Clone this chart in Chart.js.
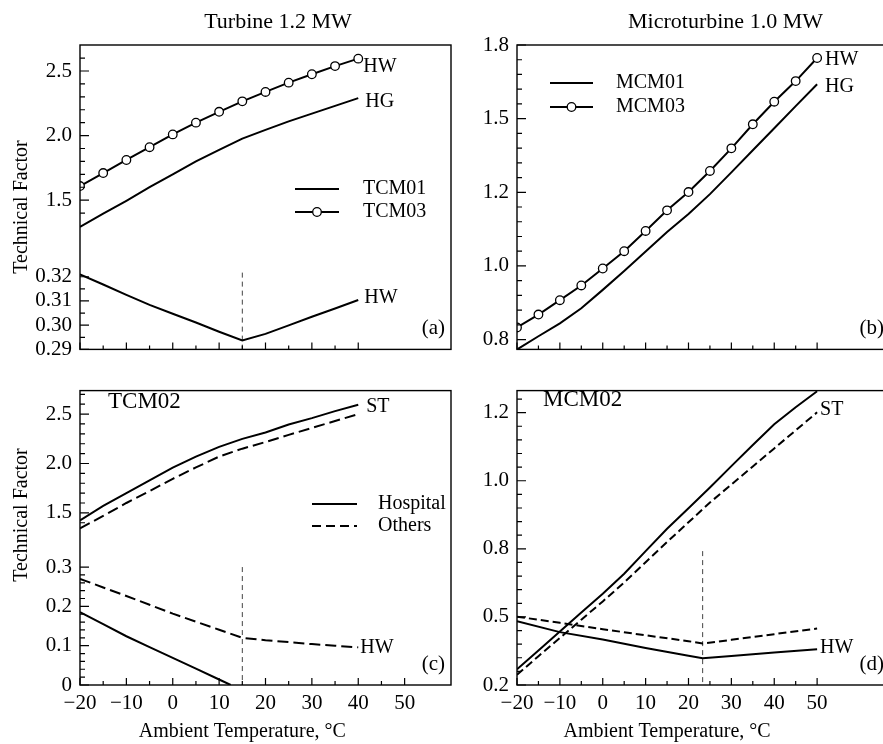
<!DOCTYPE html>
<html lang="en">
<head>
<meta charset="UTF-8">
<title>Technical Factor vs Ambient Temperature</title>
<style>
    html, body {
        margin: 0;
        padding: 0;
        overflow: hidden;
        background: #fff;
    }
    body {
        position: relative;
        width: 883px;
        height: 744px;
    }
    canvas { position: absolute; }
    #chartA { left: 0; top: 0; }
    #chartB { left: 440px; top: 0; }
    #chartC { left: 0; top: 370px; }
    #chartD { left: 440px; top: 370px; }
</style>
</head>
<body>
<canvas id="chartA" width="460" height="370"></canvas>
<canvas id="chartB" width="480" height="370"></canvas>
<canvas id="chartC" width="460" height="374"></canvas>
<canvas id="chartD" width="480" height="374"></canvas>

<script src="https://cdn.jsdelivr.net/npm/chart.js"></script>
<script>
// ---------- data ----------

// (a) Turbine 1.2 MW, TCM01 / TCM03
var tempsA = [-20, -15, -10, -5, 0, 5, 10, 15, 20, 25, 30, 35, 40];
var tcm03HW = [1.609, 1.710, 1.811, 1.910, 2.009, 2.100, 2.184, 2.265, 2.338, 2.410, 2.475, 2.538, 2.596];
var tcm01HG = [1.292, 1.395, 1.495, 1.600, 1.700, 1.800, 1.890, 1.976, 2.044, 2.110, 2.170, 2.230, 2.290];
var tcm01HW = [0.3210, 0.3168, 0.3125, 0.3084, 0.3047, 0.3011, 0.2973, 0.2937, 0.2964, 0.2999, 0.3035, 0.3069, 0.3104];

// (b) Microturbine 1.0 MW, MCM01 / MCM03
var tempsB = [-20, -15, -10, -5, 0, 5, 10, 15, 20, 25, 30, 35, 40, 45, 50];
var mcm03HW = [0.833, 0.868, 0.907, 0.947, 0.993, 1.040, 1.095, 1.151, 1.201, 1.287, 1.379, 1.477, 1.569, 1.653, 1.747];
var mcm01HG = [0.773, 0.809, 0.844, 0.885, 0.935, 0.986, 1.039, 1.092, 1.141, 1.195, 1.281, 1.371, 1.461, 1.551, 1.640];

// (c) TCM02, hospital vs others
var tempsC = [-20, -15, -10, -5, 0, 5, 10, 15, 20, 25, 30, 35, 40];
var hospST = [1.424, 1.570, 1.699, 1.830, 1.958, 2.070, 2.168, 2.249, 2.314, 2.395, 2.459, 2.530, 2.595];
var othersST = [1.343, 1.470, 1.600, 1.720, 1.845, 1.960, 2.070, 2.150, 2.217, 2.290, 2.360, 2.430, 2.500];
var othersHW = [0.270, 0.248, 0.2265, 0.204, 0.1815, 0.161, 0.1406, 0.120, 0.1137, 0.109, 0.104, 0.100, 0.0957];
var tempsCHosp = [-20, -15, -10, -5, 0, 5, 10, 12.5];
var hospHW = [0.1856, 0.155, 0.124, 0.0965, 0.069, 0.0417, 0.014, 0];

// (d) MCM02, hospital vs others
var tempsD = [-20, -15, -10, -5, 0, 5, 10, 15, 20, 25, 30, 35, 40, 45, 50];
var hospSTd = [0.269, 0.352, 0.436, 0.519, 0.602, 0.690, 0.790, 0.859, 0.919, 0.980, 1.043, 1.105, 1.166, 1.216, 1.263];
var othersSTd = [0.245, 0.327, 0.407, 0.488, 0.568, 0.652, 0.741, 0.820, 0.878, 0.936, 0.989, 1.042, 1.095, 1.148, 1.201];
var tempsDHW = [-20, -10, 0, 10, 20, 23.3, 30, 40, 50];
var hospHWd = [0.481, 0.433, 0.400, 0.363, 0.329, 0.318, 0.328, 0.343, 0.357];
var othersHWd = [0.501, 0.474, 0.446, 0.419, 0.393, 0.383, 0.399, 0.424, 0.449];

// temperature where HW reaches its minimum (dashed markers)
var minA = 15, minC = 15, minD = 23.3;

// ---------- ticks ----------
var xTicksA = [-20, -15, -10, -5, 0, 5, 10, 15, 20, 25, 30, 35, 40];
var xTicksFull = [-20, -15, -10, -5, 0, 5, 10, 15, 20, 25, 30, 35, 40, 45, 50];
var xLabels = [-20, -10, 0, 10, 20, 30, 40, 50];

var yLabelsA = ['0.29', '0.30', '0.31', '0.32', '1.5', '2.0', '2.5'];
var yMinorA = [0.295, 0.305, 0.315, 1.4, 1.6, 1.7, 1.8, 1.9, 2.1, 2.2, 2.3, 2.4, 2.6];
var yLabelsB = ['0.8', '1.0', '1.2', '1.5', '1.8'];
var yMinorB = [0.84, 0.88, 0.92, 0.96, 1.04, 1.08, 1.12, 1.16, 1.26, 1.32, 1.38, 1.44, 1.56, 1.62, 1.68, 1.74];
var yLabelsC = ['0', '0.1', '0.2', '0.3', '1.5', '2.0', '2.5'];
var yMinorC = [0.02, 0.04, 0.06, 0.08, 0.12, 0.14, 0.16, 0.18, 0.22, 0.24, 0.26, 0.28,
               1.4, 1.6, 1.7, 1.8, 1.9, 2.1, 2.2, 2.3, 2.4, 2.6, 2.7];
var yLabelsD = ['0.2', '0.5', '0.8', '1.0', '1.2'];
var yMinorD = [0.26, 0.32, 0.38, 0.44, 0.56, 0.62, 0.68, 0.74, 0.84, 0.88, 0.92, 0.96, 1.04, 1.08, 1.12, 1.16, 1.24];

// ---------- helpers ----------
var SERIF = "'Liberation Serif', 'Times New Roman', serif";
Chart.defaults.font.family = SERIF;
Chart.defaults.color = '#000';

// The y axes are broken / unevenly labelled, so values go through a
// piecewise-linear map onto a plain linear scale (units = px from bottom).
function makeAxis(segments) {
    return function (v) {
        var seg = segments[segments.length - 1];
        for (var s = 0; s < segments.length; s++) {
            if (v < segments[s].upTo) { seg = segments[s]; break; }
        }
        var k = seg.knots, i = 0;
        while (i < k.length - 2 && v > k[i + 1][0]) i++;
        return k[i][1] + (v - k[i][0]) * (k[i + 1][1] - k[i][1]) / (k[i + 1][0] - k[i][0]);
    };
}

function minus(v) {
    return v < 0 ? '\u2212' + Math.abs(v) : String(v);
}

function drawText(ctx, t) {
    ctx.save();
    ctx.font = (t.size || 20) + 'px ' + SERIF;
    ctx.fillStyle = '#000';
    ctx.textAlign = t.align || 'left';
    ctx.textBaseline = 'middle';
    ctx.translate(t.x, t.y);
    if (t.rotate) ctx.rotate(-Math.PI / 2);
    ctx.fillText(t.text, 0, 0);
    ctx.restore();
}

// frame, inward ticks and annotation text
function makeDecor(p) {
    return {
        id: 'decor',
        afterDatasetsDraw: function (chart) {
            var ctx = chart.ctx, a = chart.chartArea;
            var x = chart.scales.x, y = chart.scales.y;
            ctx.save();
            ctx.strokeStyle = '#000';
            ctx.lineWidth = 1.4;
            ctx.strokeRect(a.left, a.top, a.right - a.left, a.bottom - a.top);

            ctx.lineWidth = 1.2;
            ctx.beginPath();
            function yTick(v, len) {
                var py = y.getPixelForValue(p.toU(v));
                ctx.moveTo(a.left, py);
                ctx.lineTo(a.left + len, py);
            }
            p.yLabels.forEach(function (l) { yTick(parseFloat(l), 9); });
            p.yMinor.forEach(function (v) { yTick(v, 5); });
            p.xTicks.forEach(function (v) {
                var px = x.getPixelForValue(v);
                ctx.moveTo(px, a.bottom);
                ctx.lineTo(px, a.bottom - (v % 10 === 0 ? 7 : 4));
            });
            ctx.stroke();

            // legend samples
            (p.legend || []).forEach(function (g) {
                ctx.save();
                ctx.lineWidth = 2;
                ctx.setLineDash(g.dash || []);
                ctx.beginPath();
                ctx.moveTo(g.x0, g.y);
                ctx.lineTo(g.x1, g.y);
                ctx.stroke();
                ctx.restore();
                if (g.marker) {
                    ctx.beginPath();
                    ctx.arc((g.x0 + g.x1) / 2, g.y, 4.3, 0, Math.PI * 2);
                    ctx.fillStyle = '#fff';
                    ctx.fill();
                    ctx.lineWidth = 1.3;
                    ctx.stroke();
                }
                drawText(ctx, { text: g.text, x: g.tx, y: g.y });
            });

            // labels at the end of a curve
            (p.ends || []).forEach(function (e) {
                var pts = chart.getDatasetMeta(e.ds).data;
                var pt = pts[pts.length - 1];
                drawText(ctx, { text: e.text, x: pt.x + e.dx, y: pt.y + e.dy });
            });

            (p.texts || []).forEach(function (t) { drawText(ctx, t); });

            drawText(ctx, { text: p.corner, x: a.right - 6, y: a.bottom - 21, size: 21, align: 'right' });

            if (p.xTitle) {
                drawText(ctx, { text: 'Ambient Temperature, \u00B0C', x: x.getPixelForValue(15), y: p.xTitleY, align: 'center' });
            }
            ctx.restore();
        }
    };
}

function line(xs, ys, toU, opts) {
    opts = opts || {};
    return {
        data: xs.map(function (t, i) { return { x: t, y: toU(ys[i]) }; }),
        borderColor: opts.color || '#000',
        borderWidth: opts.width || 2,
        borderDash: opts.dash || [],
        pointRadius: opts.marker ? 4.3 : 0,
        pointBackgroundColor: '#fff',
        pointBorderColor: '#000',
        pointBorderWidth: 1.3,
        tension: 0,
        clip: 0
    };
}

function panel(id, p) {
    var xTicks = p.xLabelsShown ? xLabels : [];
    new Chart(document.getElementById(id), {
        type: 'line',
        data: { datasets: p.datasets },
        options: {
            responsive: false,
            animation: false,
            events: [],
            layout: { padding: { top: p.padTop, right: p.padRight, left: 0, bottom: 0 } },
            scales: {
                x: {
                    type: 'linear',
                    min: -20,
                    max: p.xMax,
                    afterFit: function (s) { s.height = p.xH; },
                    afterBuildTicks: function (s) { s.ticks = xTicks.map(function (v) { return { value: v }; }); },
                    ticks: {
                        display: p.xLabelsShown,
                        autoSkip: false,
                        maxRotation: 0,
                        padding: 6,
                        font: { size: 21 },
                        callback: function (v) { return minus(v); }
                    },
                    grid: { display: false, drawTicks: false },
                    border: { display: false }
                },
                y: {
                    type: 'linear',
                    min: 0,
                    max: p.yMax,
                    afterFit: function (s) { s.width = p.yW; },
                    afterBuildTicks: function (s) {
                        s.ticks = p.yLabels.map(function (l) { return { value: p.toU(parseFloat(l)) }; });
                    },
                    ticks: {
                        autoSkip: false,
                        padding: 8,
                        font: { size: 21 },
                        callback: function (v, i) { return p.yLabels[i]; }
                    },
                    grid: { display: false, drawTicks: false },
                    border: { display: false }
                }
            },
            plugins: { legend: { display: false }, tooltip: { enabled: false } }
        },
        plugins: [makeDecor(p)]
    });
}

var refLine = { color: '#444', width: 1, dash: [5, 4] };

// ---------- (a) ----------
var toUA = makeAxis([
    { upTo: 1, knots: [[0.29, 0], [0.32, 74]] },
    { upTo: Infinity, knots: [[1.5, 152], [2.5, 283.5]] }
]);
panel('chartA', {
    toU: toUA, padTop: 45, padRight: 9, yW: 80, xH: 15, yMax: 310, xMax: 60,
    xLabelsShown: false, xTicks: xTicksA,
    yLabels: yLabelsA, yMinor: yMinorA,
    datasets: [
        line(tempsA, tcm03HW, toUA, { marker: true }),
        line(tempsA, tcm01HG, toUA),
        line(tempsA, tcm01HW, toUA),
        line([minA, minA], [0.3217, 0.29], toUA, refLine)
    ],
    ends: [
        { ds: 0, text: 'HW', dx: 5, dy: 8 },
        { ds: 1, text: 'HG', dx: 7, dy: 4 },
        { ds: 2, text: 'HW', dx: 6, dy: -2 }
    ],
    legend: [
        { text: 'TCM01', x0: 295, x1: 339, y: 189, tx: 363 },
        { text: 'TCM03', x0: 295, x1: 339, y: 212, tx: 363, marker: true }
    ],
    texts: [
        { text: 'Turbine 1.2 MW', x: 278, y: 22, size: 22, align: 'center' },
        { text: 'Technical Factor', x: 22, y: 207, rotate: true, align: 'center' }
    ],
    corner: '(a)'
});

// ---------- (b) ----------
var toUB = makeAxis([
    { upTo: Infinity, knots: [[0.8, 10], [1.0, 85], [1.2, 160], [1.5, 235], [1.8, 310]] }
]);
panel('chartB', {
    toU: toUB, padTop: 45, padRight: 30, yW: 77, xH: 15, yMax: 310, xMax: 67,
    xLabelsShown: false, xTicks: xTicksFull,
    yLabels: yLabelsB, yMinor: yMinorB,
    datasets: [
        line(tempsB, mcm03HW, toUB, { marker: true }),
        line(tempsB, mcm01HG, toUB)
    ],
    ends: [
        { ds: 0, text: 'HW', dx: 8, dy: 2 },
        { ds: 1, text: 'HG', dx: 8, dy: 2 }
    ],
    legend: [
        { text: 'MCM01', x0: 110, x1: 153, y: 83, tx: 176 },
        { text: 'MCM03', x0: 110, x1: 153, y: 107, tx: 176, marker: true }
    ],
    texts: [
        { text: 'Microturbine 1.0 MW', x: 285.5, y: 22, size: 22, align: 'center' }
    ],
    corner: '(b)'
});

// ---------- (c) ----------
var toUC = makeAxis([
    { upTo: 1, knots: [[0, 0], [0.3, 123]] },
    { upTo: Infinity, knots: [[1.5, 179.5], [2.5, 282.5]] }
]);
panel('chartC', {
    toU: toUC, padTop: 8, padRight: 9, yW: 80, xH: 59, yMax: 307, xMax: 60,
    xLabelsShown: true, xTicks: xTicksFull,
    yLabels: yLabelsC, yMinor: yMinorC,
    datasets: [
        line(tempsC, hospST, toUC),
        line(tempsC, othersST, toUC, { dash: [11, 5] }),
        line(tempsC, othersHW, toUC, { dash: [11, 5] }),
        line(tempsCHosp, hospHW, toUC),
        line([minC, minC], [0.3, 0], toUC, refLine)
    ],
    ends: [
        { ds: 0, text: 'ST', dx: 8, dy: 2 },
        { ds: 2, text: 'HW', dx: 2, dy: 0 }
    ],
    legend: [
        { text: 'Hospital', x0: 312, x1: 357, y: 134, tx: 378 },
        { text: 'Others', x0: 312, x1: 357, y: 156, tx: 378, dash: [9, 5] }
    ],
    texts: [
        { text: 'TCM02', x: 108, y: 32, size: 23 },
        { text: 'Technical Factor', x: 22, y: 145, rotate: true, align: 'center' }
    ],
    xTitle: true, xTitleY: 362,
    corner: '(c)'
});

// ---------- (d) ----------
var toUD = makeAxis([
    { upTo: Infinity, knots: [[0.2, 0], [0.5, 71], [0.8, 142], [1.0, 213], [1.2, 284]] }
]);
panel('chartD', {
    toU: toUD, padTop: 8, padRight: 30, yW: 77, xH: 59, yMax: 307, xMax: 67,
    xLabelsShown: true, xTicks: xTicksFull,
    yLabels: yLabelsD, yMinor: yMinorD,
    datasets: [
        line(tempsD, hospSTd, toUD),
        line(tempsD, othersSTd, toUD, { dash: [8, 4] }),
        line(tempsDHW, hospHWd, toUD),
        line(tempsDHW, othersHWd, toUD, { dash: [8, 4] }),
        line([minD, minD], [0.79, 0.2], toUD, refLine)
    ],
    ends: [
        { ds: 1, text: 'ST', dx: 3, dy: -3 },
        { ds: 2, text: 'HW', dx: 3, dy: -2 }
    ],
    texts: [
        { text: 'MCM02', x: 103, y: 30, size: 23 }
    ],
    xTitle: true, xTitleY: 362,
    corner: '(d)'
});
</script>
</body>
</html>
